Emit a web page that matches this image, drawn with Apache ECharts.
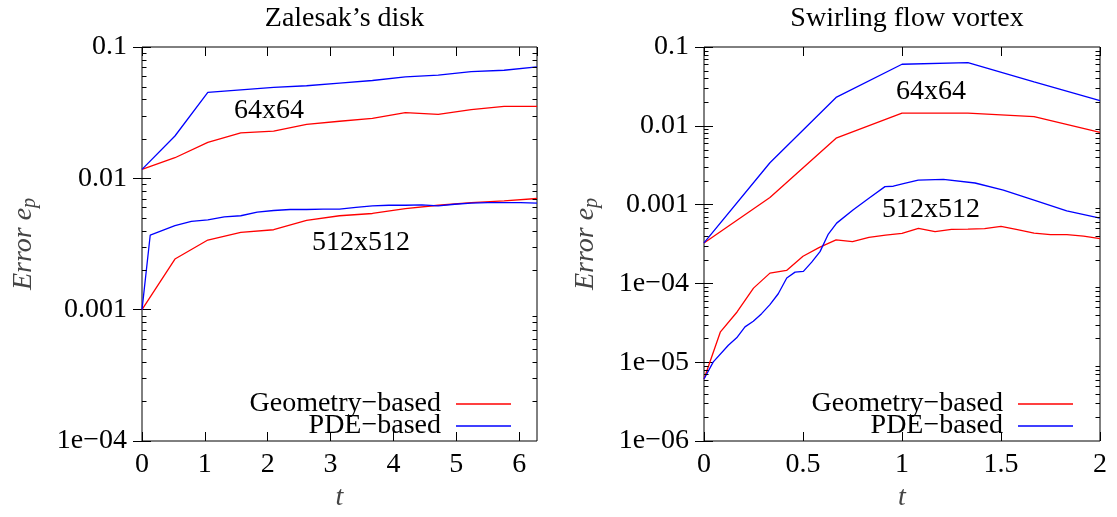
<!DOCTYPE html>
<html>
<head>
<meta charset="utf-8">
<title>Error e_p</title>
<script src="https://cdn.jsdelivr.net/npm/echarts@6/dist/echarts.min.js"></script>
<style>
  html, body { margin: 0; padding: 0; background: #fff; }
  #chart { width: 1117px; height: 517px; }
</style>
</head>
<body>
<div id="chart"></div>
<script>
// Zalesak's disk (left panel)
var zalesakT = [0, 0.524, 1.047, 1.571, 2.094, 2.618, 3.142, 3.665, 4.189, 4.712, 5.236, 5.760, 6.283];
var zalesakGeo64 = [0.0117, 0.01435, 0.0188, 0.0222, 0.0229, 0.0258, 0.0272, 0.0286, 0.0316, 0.0307, 0.0333, 0.0353, 0.0353];
var zalesakPde64 = [0.0117, 0.0210, 0.0451, 0.0472, 0.0492, 0.0507, 0.0531, 0.0556, 0.0593, 0.0610, 0.0650, 0.0665, 0.0705];
var zalesakGeo512 = [0.001, 0.00243, 0.00339, 0.00388, 0.00406, 0.00478, 0.00519, 0.00540, 0.00589, 0.00624, 0.00654, 0.00673, 0.00702];
var zalesakPde512T = [0, 0.131, 0.524, 0.785, 1.047, 1.309, 1.571, 1.833, 2.094, 2.356, 2.618, 2.880, 3.142, 3.403,
    3.665, 3.927, 4.189, 4.451, 4.712, 4.974, 5.236, 5.498, 5.760, 6.021, 6.283];
var zalesakPde512 = [0.001, 0.0037, 0.00436, 0.0047, 0.00483, 0.00509, 0.00519, 0.00553, 0.00569, 0.00579, 0.00579,
    0.00582, 0.00582, 0.00600, 0.00617, 0.00624, 0.00624, 0.00628, 0.00617, 0.00635, 0.00647, 0.00654, 0.00654, 0.00654, 0.00647];

// Swirling flow vortex (right panel)
var swirlT64 = [0, 0.333, 0.667, 1.0, 1.333, 1.667, 2.0];
var swirlGeo64 = [3.26e-4, 0.00123, 0.00697, 0.01452, 0.01452, 0.01306, 0.00828];
var swirlPde64 = [3.26e-4, 0.0034, 0.0229, 0.0604, 0.0634, 0.0360, 0.0208];
var swirlGeo512T = [0, 0.083, 0.167, 0.25, 0.333, 0.417, 0.5, 0.583, 0.667, 0.75, 0.833, 0.917, 1.0, 1.083, 1.167,
    1.25, 1.333, 1.417, 1.5, 1.583, 1.667, 1.75, 1.833, 1.917, 2.0];
var swirlGeo512 = [6.12e-6, 2.43e-5, 4.34e-5, 8.71e-5, 1.35e-4, 1.46e-4, 2.21e-4, 2.87e-4, 3.56e-4, 3.38e-4, 3.84e-4,
    4.11e-4, 4.31e-4, 4.99e-4, 4.53e-4, 4.84e-4, 4.88e-4, 4.95e-4, 5.28e-4, 4.8e-4, 4.35e-4, 4.15e-4, 4.15e-4, 3.99e-4, 3.69e-4];
var swirlPde512T = [0, 0.047, 0.123, 0.165, 0.207, 0.249, 0.291, 0.333, 0.375, 0.418, 0.460, 0.502, 0.544, 0.586,
    0.628, 0.670, 0.754, 0.838, 0.914, 0.956, 1.007, 1.082, 1.209, 1.369, 1.512, 1.663, 1.832, 2.0];
var swirlPde512 = [6.12e-6, 1.01e-5, 1.64e-5, 2.04e-5, 2.81e-5, 3.31e-5, 4.13e-5, 5.37e-5, 7.39e-5, 1.17e-4, 1.39e-4,
    1.42e-4, 1.86e-4, 2.53e-4, 4.23e-4, 5.82e-4, 8.58e-4, 1.23e-3, 1.69e-3, 1.71e-3, 1.85e-3, 2.05e-3, 2.09e-3,
    1.88e-3, 1.53e-3, 1.15e-3, 8.34e-4, 6.73e-4];

// minor tick multiples inside each decade, and decades per panel
var minorMultiples = [2, 3, 4, 5, 6, 7, 8, 9];
var zalesakDecades = [-4, -3, -2];
var swirlDecades = [-6, -5, -4, -3, -2];

var legendNames = ['Geometry\u2212based', 'PDE\u2212based'];
var FONT = 'Liberation Serif';
var RED = '#ff0000';
var BLUE = '#0000ff';

function pairs(xs, ys) {
    var res = [];
    for (var i = 0; i < xs.length; i++) res.push([xs[i], ys[i]]);
    return res;
}

function minorValues(decades) {
    var res = [];
    decades.forEach(function (d) {
        minorMultiples.forEach(function (m) {
            res.push([0, m * Math.pow(10, d)]);
        });
    });
    return res;
}

function decadeLabel(v) {
    var e = Math.round(Math.log10(v));
    if (e >= -3) return '0.' + '0'.repeat(-e - 1) + '1';
    return '1e\u2212' + (-e < 10 ? '0' : '') + (-e);
}

var labelStyle = {fontFamily: FONT, fontSize: 28, color: '#000'};
var nameStyle = {
    fontFamily: FONT, fontSize: 28, fontStyle: 'italic', color: '#444',
    rich: {
        s: {fontFamily: FONT, fontSize: 20, fontStyle: 'italic', color: '#444', padding: [12, 0, 0, 0]}
    }
};

function xAxes(grid, max, interval) {
    var tick = {inside: true, length: 9, lineStyle: {color: '#000', width: 1}};
    return [
        {
            gridIndex: grid, type: 'value', min: 0, max: max, interval: interval, position: 'bottom',
            axisLine: {show: false}, axisTick: tick, splitLine: {show: false},
            axisLabel: Object.assign({
                margin: 10, showMaxLabel: interval === 1 ? false : true,
                formatter: function (v) {
                    return Math.abs(v / interval - Math.round(v / interval)) < 1e-6 ? String(+v.toFixed(2)) : '';
                }
            }, labelStyle),
            name: 't', nameLocation: 'middle', nameGap: 43, nameTextStyle: nameStyle
        },
        {
            gridIndex: grid, type: 'value', min: 0, max: max, interval: interval, position: 'top',
            axisLine: {show: false}, axisTick: tick, splitLine: {show: false}, axisLabel: {show: false}
        }
    ];
}

function yAxes(grid, min) {
    var tick = {inside: true, length: 9, lineStyle: {color: '#000', width: 1}};
    return [
        {
            gridIndex: grid, type: 'log', logBase: 10, min: min, max: 0.1, position: 'left',
            axisLine: {show: false}, axisTick: tick, splitLine: {show: false},
            axisLabel: Object.assign({margin: 15, formatter: decadeLabel}, labelStyle),
            name: 'Error e{s|p}', nameLocation: 'middle', nameGap: 102, nameTextStyle: nameStyle
        },
        {
            gridIndex: grid, type: 'log', logBase: 10, min: min, max: 0.1, position: 'right',
            axisLine: {show: false}, axisTick: tick, splitLine: {show: false}, axisLabel: {show: false}
        }
    ];
}

function lineSeries(name, axis, data, color) {
    return {
        type: 'line', name: name, xAxisIndex: axis, yAxisIndex: axis, data: data,
        symbol: 'none', lineStyle: {color: color, width: 1.3}, itemStyle: {color: color}, z: 3
    };
}

function minorTickSeries(axis, decades) {
    return {
        type: 'custom', xAxisIndex: axis, yAxisIndex: axis, silent: true, z: 4,
        data: minorValues(decades),
        renderItem: function (params, api) {
            var p = api.coord([api.value(0), api.value(1)]);
            var cs = params.coordSys;
            var y = Math.round(p[1]) + 0.5;
            var st = {stroke: '#000', lineWidth: 1};
            return {
                type: 'group',
                children: [
                    {type: 'line', shape: {x1: cs.x, y1: y, x2: cs.x + 4.5, y2: y}, style: st},
                    {type: 'line', shape: {x1: cs.x + cs.width, y1: y, x2: cs.x + cs.width - 4.5, y2: y}, style: st}
                ]
            };
        }
    };
}

function legendFor(right) {
    return {
        data: legendNames, orient: 'vertical', right: right, top: 390, align: 'right', padding: 0,
        icon: 'rect', itemWidth: 55, itemHeight: 1.4, itemGap: -6, selectedMode: false,
        textStyle: {fontFamily: FONT, fontSize: 28, color: '#000', padding: [0, 10, 0, 0]}
    };
}

function panelText(text, x, y) {
    return {
        type: 'text', x: x, y: y, silent: true,
        style: {
            text: text, fill: '#000', font: '28px "' + FONT + '"',
            align: 'center', verticalAlign: 'middle', textAlign: 'center', textVerticalAlign: 'middle'
        }
    };
}

var option = {
    animation: false,
    backgroundColor: '#fff',
    title: [
        {text: 'Zalesak\u2019s disk', left: 339.5, top: 0, textAlign: 'center',
            textStyle: {fontFamily: FONT, fontSize: 28, fontWeight: 'normal', color: '#000'}},
        {text: 'Swirling flow vortex', left: 902, top: 0, textAlign: 'center',
            textStyle: {fontFamily: FONT, fontSize: 28, fontWeight: 'normal', color: '#000'}}
    ],
    grid: [
        {left: 142, top: 47, width: 395, height: 396, show: true, borderColor: '#000', borderWidth: 1, backgroundColor: 'transparent'},
        {left: 704, top: 47, width: 396, height: 396, show: true, borderColor: '#000', borderWidth: 1, backgroundColor: 'transparent'}
    ],
    xAxis: xAxes(0, 6.2832, 1).concat(xAxes(1, 2, 0.5)),
    yAxis: yAxes(0, 1e-4).concat(yAxes(1, 1e-6)),
    legend: [legendFor(606), legendFor(44)],
    graphic: [
        panelText('64x64', 269, 111),
        panelText('512x512', 361, 243),
        panelText('64x64', 931, 92),
        panelText('512x512', 931, 210)
    ],
    series: [
        lineSeries(legendNames[0], 0, pairs(zalesakT, zalesakGeo64), RED),
        lineSeries(legendNames[1], 0, pairs(zalesakT, zalesakPde64), BLUE),
        lineSeries(legendNames[0], 0, pairs(zalesakT, zalesakGeo512), RED),
        lineSeries(legendNames[1], 0, pairs(zalesakPde512T, zalesakPde512), BLUE),
        lineSeries(legendNames[0], 2, pairs(swirlT64, swirlGeo64), RED),
        lineSeries(legendNames[1], 2, pairs(swirlT64, swirlPde64), BLUE),
        lineSeries(legendNames[0], 2, pairs(swirlGeo512T, swirlGeo512), RED),
        lineSeries(legendNames[1], 2, pairs(swirlPde512T, swirlPde512), BLUE),
        minorTickSeries(0, zalesakDecades),
        minorTickSeries(2, swirlDecades)
    ]
};

var myChart = echarts.init(document.getElementById('chart'));
myChart.setOption(option);
</script>
</body>
</html>
